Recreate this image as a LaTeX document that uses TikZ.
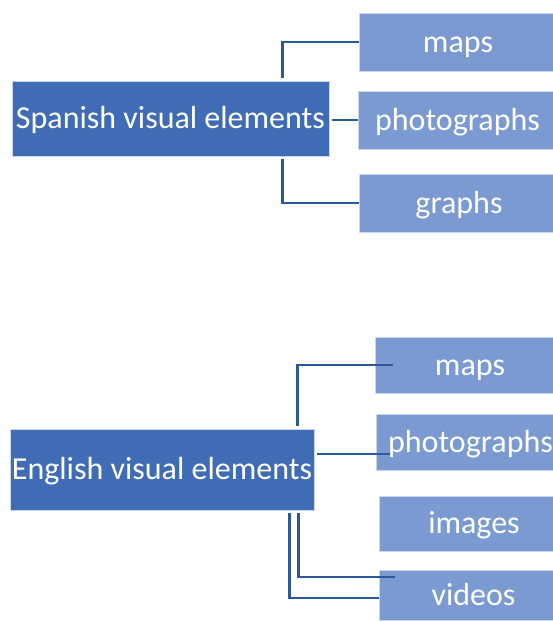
\documentclass[tikz,border=0pt]{standalone}
\usepackage{fontspec}
\setmainfont{Carlito}
\definecolor{mainbox}{HTML}{3F6CB4}
\definecolor{subbox}{HTML}{7A9AD1}
\definecolor{linkblue}{HTML}{2C589C}
\definecolor{edge}{HTML}{C9D6EE}
\tikzset{
  boxbase/.style={rectangle, draw=edge, line width=0.6pt, text=white,
    font=\fontsize{32}{38}\selectfont, inner sep=0pt, text height=24pt, text depth=4pt},
  topic/.style={boxbase, fill=mainbox},
  item/.style={boxbase, fill=subbox},
  link/.style={draw=linkblue, line width=2.8pt}
}
\begin{document}
\begin{tikzpicture}[x=1pt,y=-1pt]
\useasboundingbox (0,0) rectangle (553,621);

% Spanish group (the item boxes run past the right margin)
\node[topic, minimum width=317pt, minimum height=75pt] (sp) at (170.5,118.5) {Spanish visual elements};
\node[item, minimum width=198pt, minimum height=58pt] (maps1) at (458,42) {maps};
\node[item, minimum width=199pt, minimum height=58pt] (photo1) at (457.5,120) {photographs};
\node[item, minimum width=200pt, minimum height=58pt] (graphs1) at (459,203) {graphs};

\draw[link] ([xshift=271pt,yshift=3pt]sp.north west) |- (maps1.west);
\draw[link] ([xshift=3pt,yshift=-1.5pt]sp.east) -- (photo1.west);
\draw[link] ([xshift=271pt,yshift=-3pt]sp.south west) |- (graphs1.west);

% English group
\node[topic, minimum width=304pt, minimum height=81pt] (en) at (162,469.5) {English visual elements};
\node[item, minimum width=190pt, minimum height=56pt] (maps2) at (470,365) {maps};
\node[item, minimum width=189pt, minimum height=56pt] (photo2) at (470.5,442) {photographs};
\node[item, minimum width=190pt, minimum height=55pt] (images) at (474,523.5) {images};
\node[item, minimum width=189pt, minimum height=50pt] (videos) at (473.5,595) {videos};

\draw[link] ([xshift=288pt,yshift=3pt]en.north west) |- ([xshift=18pt]maps2.west);
\draw[link] ([xshift=3pt,yshift=15.5pt]en.east) -- ([xshift=14pt,yshift=-12pt]photo2.west);
\draw[link] ([xshift=289pt,yshift=-3pt]en.south west) |- ([xshift=16pt,yshift=18pt]videos.west);
\draw[link] ([xshift=280pt,yshift=-3pt]en.south west) |- ([yshift=-3pt]videos.west);
\end{tikzpicture}
\end{document}
